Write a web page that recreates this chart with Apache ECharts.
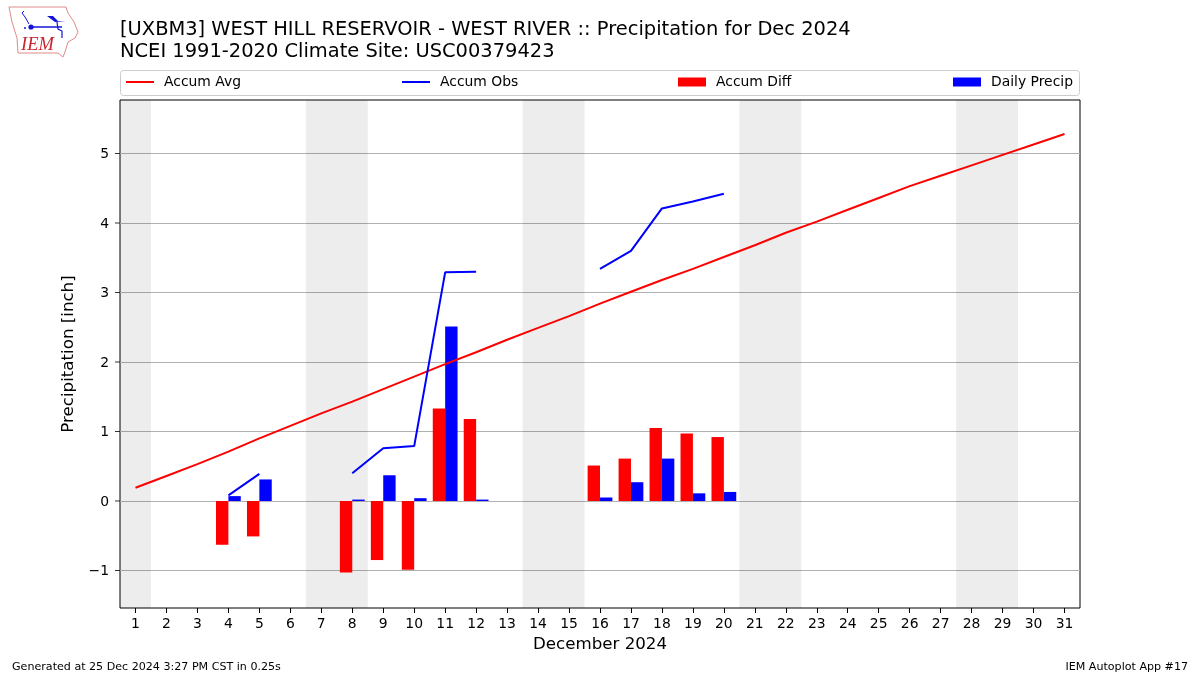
<!DOCTYPE html>
<html><head><meta charset="utf-8">
<style>html,body{margin:0;padding:0;background:#fff}#c{width:1200px;height:675px}</style>
<script src="https://cdn.jsdelivr.net/npm/echarts@6/dist/echarts.min.js"></script>
</head><body><div id="c"></div>
<script>
const days = [1,2,3,4,5,6,7,8,9,10,11,12,13,14,15,16,17,18,19,20,21,22,23,24,25,26,27,28,29,30,31];
const accumAvg = [0.19,0.36,0.53,0.71,0.90,1.08,1.26,1.43,1.61,1.79,1.97,2.14,2.32,2.49,2.66,2.84,3.01,3.18,3.34,3.51,3.68,3.86,4.02,4.19,4.36,4.53,4.68,4.83,4.98,5.13,5.28];
const accumObs = [null,null,null,0.08,0.39,null,null,0.40,0.76,0.79,3.29,3.30,null,null,null,3.34,3.60,4.21,4.31,4.42,null,null,null,null,null,null,null,null,null,null,null];
const accumDiff = [null,null,null,-0.63,-0.51,null,null,-1.03,-0.85,-0.99,1.33,1.18,null,null,null,0.51,0.61,1.05,0.97,0.92,null,null,null,null,null,null,null,null,null,null,null];
const dailyPrecip = [null,null,null,0.07,0.31,null,null,0.02,0.37,0.04,2.51,0.02,null,null,null,0.05,0.27,0.61,0.11,0.13,null,null,null,null,null,null,null,null,null,null,null];
const weekendBands = [[0.5,1.5],[6.5,8.5],[13.5,15.5],[20.5,22.5],[27.5,29.5]];
const yTicks = [-1,0,1,2,3,4,5];
const yMin = -1.54, yMax = 5.77;
const titleLine1 = '[UXBM3] WEST HILL RESERVOIR - WEST RIVER :: Precipitation for Dec 2024';
const titleLine2 = 'NCEI 1991-2020 Climate Site: USC00379423';

const FONT = 'DejaVu Sans';
const chart = echarts.init(document.getElementById('c'), null, {renderer:'canvas'});
const legendCommon = {top:75, itemWidth:28, itemGap:10, padding:[0,0,0,0], icon:'rect',
  textStyle:{fontFamily:FONT, fontSize:13.9, color:'#000', padding:[0,0,0,5]}};
const logoBlue = '#1414d8';
chart.setOption({
  animation:false,
  backgroundColor:'#fff',
  title:[
    {text:titleLine1, left:120, top:20, padding:0, textStyle:{fontFamily:FONT,fontSize:19.44,fontWeight:'normal',color:'#000'}},
    {text:titleLine2, left:120, top:42, padding:0, textStyle:{fontFamily:FONT,fontSize:19.44,fontWeight:'normal',color:'#000'}},
    {text:'Generated at 25 Dec 2024 3:27 PM CST in 0.25s', left:12, top:662, padding:0, textStyle:{fontFamily:FONT,fontSize:11.1,fontWeight:'normal',color:'#000'}},
    {text:'IEM Autoplot App #17', right:12, top:662, padding:0, textStyle:{fontFamily:FONT,fontSize:11.1,fontWeight:'normal',color:'#000'}}
  ],
  legend:[
    Object.assign({}, legendCommon, {left:126, itemHeight:2, data:['Accum Avg']}),
    Object.assign({}, legendCommon, {left:402, itemHeight:2, data:['Accum Obs']}),
    Object.assign({}, legendCommon, {left:678, itemHeight:9, data:['Accum Diff']}),
    Object.assign({}, legendCommon, {left:953, itemHeight:9, data:['Daily Precip']})
  ],
  grid:{left:120, top:100, width:960, height:508, show:true, borderColor:'#000', borderWidth:1, backgroundColor:'#fff', containLabel:false},
  xAxis:[
    {type:'category', data:days.map(String), boundaryGap:true, position:'bottom',
     axisLine:{show:false, onZero:false},
     axisTick:{show:true, alignWithLabel:true, length:5, lineStyle:{color:'#000'}},
     axisLabel:{interval:0, fontFamily:FONT, fontSize:13.9, color:'#000', margin:9},
     splitLine:{show:false},
     name:'December 2024', nameLocation:'middle', nameGap:28, nameTextStyle:{fontFamily:FONT,fontSize:16.67,color:'#000'}},
    {type:'value', min:0.5, max:31.5, show:false, splitLine:{show:false}}
  ],
  yAxis:{type:'value', min:yMin, max:yMax, interval:1,
    axisLine:{show:false},
    axisTick:{show:false, customValues:yTicks},
    axisLabel:{fontFamily:FONT, fontSize:13.9, color:'#000', margin:11, verticalAlign:'top', padding:[-6,0,0,0], customValues:yTicks,
      formatter:v=>String(v).replace('-','\u2212')},
    splitLine:{show:true, lineStyle:{color:'#b0b0b0',width:1}},
    name:'Precipitation [inch]', nameLocation:'middle', nameGap:31, nameRotate:90,
    nameTextStyle:{fontFamily:FONT,fontSize:16.67,color:'#000'}},
  series:[
    {type:'line', name:'weekends', xAxisIndex:1, data:[], silent:true, z:1, legendHoverLink:false,
     markArea:{silent:true, z:1, itemStyle:{color:'rgba(0,0,0,0.07)'}, label:{show:false},
       data:weekendBands.map(b=>[{xAxis:b[0]},{xAxis:b[1]}])}},
    {type:'line', name:'Accum Avg', data:accumAvg, symbol:'none', z:5, lineStyle:{color:'#ff0000',width:2}, itemStyle:{color:'#ff0000'}},
    {type:'line', name:'Accum Obs', data:accumObs, symbol:'none', z:5, connectNulls:false, lineStyle:{color:'#0000ff',width:2}, itemStyle:{color:'#0000ff'}},
    {type:'bar', name:'Accum Diff', data:accumDiff, barWidth:'40%', barGap:'0%', z:3, itemStyle:{color:'#ff0000'}},
    {type:'bar', name:'Daily Precip', data:dailyPrecip, barWidth:'40%', barGap:'0%', z:3, itemStyle:{color:'#0000ff'}},
    {type:'scatter', name:'yTickMarks', xAxisIndex:1, silent:true, clip:false, z:6,
     symbol:'rect', symbolSize:[5,1], symbolOffset:[-2.5,0], itemStyle:{color:'#000'},
     data:yTicks.map(v=>[0.5,v])}
  ],
  graphic:[
    {type:'rect', silent:true, z:-1, shape:{x:120.5,y:70.5,width:959,height:25,r:3}, style:{fill:'#fff',stroke:'#cccccc',lineWidth:1}},
    {type:'polygon', silent:true, shape:{points:[[9,7],[66,7],[68,13],[74,22],[78,32],[75,38],[68,42],[65,52],[63,57],[58,53],[18,53],[17,38],[12,22]]},
      style:{fill:'#fff',stroke:'#e08a8a',lineWidth:1}},
    {type:'text', silent:true, style:{x:21,y:36,text:'IEM',fill:'#c9252d',fontFamily:'Liberation Serif',fontStyle:'italic',fontSize:18.5}},
    {type:'line', silent:true, shape:{x1:31,y1:27,x2:62,y2:27}, style:{stroke:logoBlue,lineWidth:1.5}},
    {type:'circle', silent:true, shape:{cx:31,cy:27,r:2.6}, style:{fill:logoBlue}},
    {type:'polygon', silent:true, shape:{points:[[47,16],[53,16],[58,21],[66,21],[55,22]]}, style:{fill:logoBlue}},
    {type:'polyline', silent:true, shape:{points:[[29,24],[25,17],[22,13],[24,11]]}, style:{stroke:logoBlue,fill:'none',lineWidth:1}},
    {type:'polyline', silent:true, shape:{points:[[57,22],[58,29],[62,31],[62,38]]}, style:{stroke:logoBlue,fill:'none',lineWidth:1.2}},
    {type:'circle', silent:true, shape:{cx:25,cy:28,r:1}, style:{fill:logoBlue}}
  ]
});
</script></body></html>
